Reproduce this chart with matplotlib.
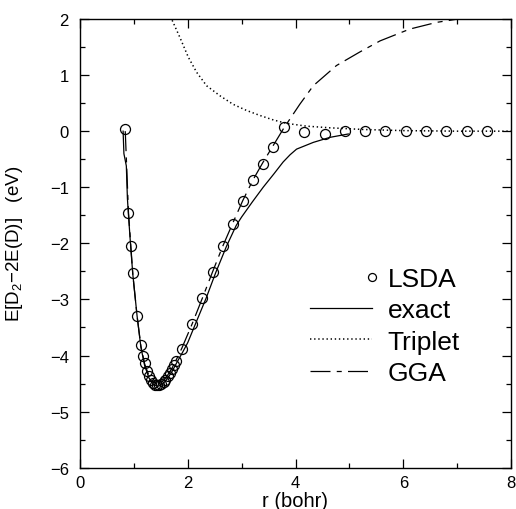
import matplotlib
matplotlib.use("Agg")
import matplotlib.pyplot as plt
from matplotlib.legend_handler import HandlerLine2D
import numpy as np

plt.rcParams['font.family'] = ['Liberation Sans', 'DejaVu Sans']
plt.rcParams['mathtext.fontset'] = 'custom'
plt.rcParams['mathtext.rm'] = 'Liberation Sans'
plt.rcParams['mathtext.it'] = 'Liberation Sans:italic'

# LSDA binding curve (r in bohr, energy in eV)
lsda_r = [0.835, 0.897, 0.94, 0.98, 1.063,
          1.134, 1.172, 1.209, 1.247, 1.285, 1.323, 1.361, 1.398, 1.436,
          1.474, 1.512, 1.550, 1.587, 1.625, 1.663, 1.701, 1.739, 1.776,
          1.89, 2.08, 2.27, 2.46, 2.65, 2.84, 3.02, 3.21, 3.40, 3.59, 3.78,
          4.16, 4.54, 4.91, 5.29, 5.67, 6.05, 6.43, 6.80, 7.18, 7.56]
lsda_e = [0.03, -1.46, -2.05, -2.53, -3.30,
          -3.82, -4.00, -4.14, -4.27, -4.37, -4.44, -4.49, -4.52, -4.53,
          -4.52, -4.50, -4.47, -4.43, -4.37, -4.31, -4.24, -4.17, -4.09,
          -3.88, -3.44, -2.98, -2.51, -2.05, -1.65, -1.24, -0.87, -0.59, -0.28, 0.08,
          -0.02, -0.05, 0.0, 0.0, 0.0, 0.0, 0.0, 0.0, 0.0, 0.0]

# exact singlet curve
exact_r = [0.80, 0.815, 0.86, 0.88, 0.90, 0.94, 0.98, 1.06, 1.13, 1.20, 1.28,
           1.36, 1.44, 1.52, 1.60, 1.70, 1.80, 1.90, 2.00, 2.15, 2.34, 2.52,
           2.72, 2.90, 3.00, 3.20, 3.40, 3.60, 3.77, 3.90, 4.02, 4.33, 4.64, 4.98]
exact_e = [0.0, -0.40, -0.62, -1.20, -1.50, -2.05, -2.55, -3.30, -3.85, -4.18, -4.40,
           -4.51, -4.55, -4.52, -4.44, -4.30, -4.12, -3.95, -3.77, -3.42, -2.98, -2.52,
           -2.05, -1.68, -1.53, -1.26, -1.00, -0.76, -0.55, -0.42, -0.32, -0.20, -0.11, -0.05]

# triplet curve
trip_r = [1.62, 1.70, 1.855, 2.01, 2.165, 2.35, 2.60, 2.84, 3.09, 3.34, 3.59, 3.83,
          4.20, 4.64, 5.26, 6.0, 7.0, 8.0]
trip_e = [2.18, 2.00, 1.67, 1.32, 1.05, 0.81, 0.63, 0.48, 0.37, 0.28, 0.20, 0.14,
          0.09, 0.06, 0.03, 0.01, 0.0, 0.0]

# GGA curve
gga_r = [0.84, 0.90, 0.98, 1.06, 1.13, 1.20, 1.28, 1.36, 1.44, 1.52, 1.60, 1.70,
         1.80, 1.89, 2.08, 2.27, 2.46, 2.65, 2.84, 3.02, 3.21, 3.40, 3.59, 3.78,
         4.08, 4.33, 4.76, 5.19, 5.57, 6.12, 6.62, 7.02, 7.50]
gga_e = [0.0, -1.45, -2.55, -3.30, -3.83, -4.15, -4.36, -4.47, -4.50, -4.47, -4.39, -4.24,
         -4.05, -3.87, -3.44, -2.98, -2.51, -2.05, -1.63, -1.24, -0.87, -0.55, -0.25, 0.05,
         0.48, 0.81, 1.17, 1.41, 1.61, 1.82, 1.94, 2.0, 2.05]

labels = ["LSDA", "exact", "Triplet", "GGA"]


class MarkerAtEnd(HandlerLine2D):
    """Legend handler drawing one marker at the right end of the handle box."""
    def get_xdata(self, legend, xdescent, ydescent, width, height, fontsize):
        x = np.array([width - xdescent])
        return x, x


fig = plt.figure(figsize=(5.16, 5.10), dpi=100)
ax = fig.add_axes([80 / 516, 1 - 468.7 / 510, 431 / 516, 448.7 / 510])

h_lsda, = ax.plot(lsda_r, lsda_e, linestyle='none', marker='o', markersize=7.2,
                  markerfacecolor='none', markeredgecolor='black', markeredgewidth=0.9,
                  zorder=3)
h_exact, = ax.plot(exact_r, exact_e, color='black', lw=0.9, zorder=2)
h_trip, = ax.plot(trip_r, trip_e, color='black', lw=1.1, dashes=(0.9, 1.8), zorder=2)
h_gga, = ax.plot(gga_r, gga_e, color='black', lw=0.9, dashes=(16, 5, 4, 5), zorder=2)

ax.set_xlim(0, 8)
ax.set_ylim(-6, 2)
ax.set_xticks([0, 2, 4, 6, 8])
ax.set_xticks([1, 3, 5, 7], minor=True)
ax.set_yticks(range(-6, 3))
ax.set_yticks(np.arange(-5.5, 2, 1.0), minor=True)

ax.tick_params(which='both', direction='in', top=True, right=True, width=0.9)
ax.tick_params(which='major', length=6.5, labelsize=12)
ax.tick_params(which='minor', length=3.5)
ax.tick_params(axis='x', which='major', pad=5)
ax.tick_params(axis='y', which='major', pad=8)
for sp in ax.spines.values():
    sp.set_linewidth(1.0)

ax.set_xlabel("r (bohr)", fontsize=14.5, labelpad=1)
ax.set_ylabel(r"E[D$_2$−2E(D)]   (eV)", fontsize=13.5)
ax.yaxis.set_label_coords(-(80 - 25) / 431, 0.5)

leg = ax.legend([h_lsda, h_exact, h_trip, h_gga], labels,
                loc='upper left', bbox_to_anchor=(310 / 516, 1 - 268 / 510),
                bbox_transform=fig.transFigure, frameon=False,
                fontsize=19, handlelength=2.35, handletextpad=0.6,
                labelspacing=0.275, borderpad=0, borderaxespad=0,
                markerscale=0.8,
                handler_map={h_lsda: MarkerAtEnd(numpoints=2)})

fig.savefig("out.png", dpi=100)
